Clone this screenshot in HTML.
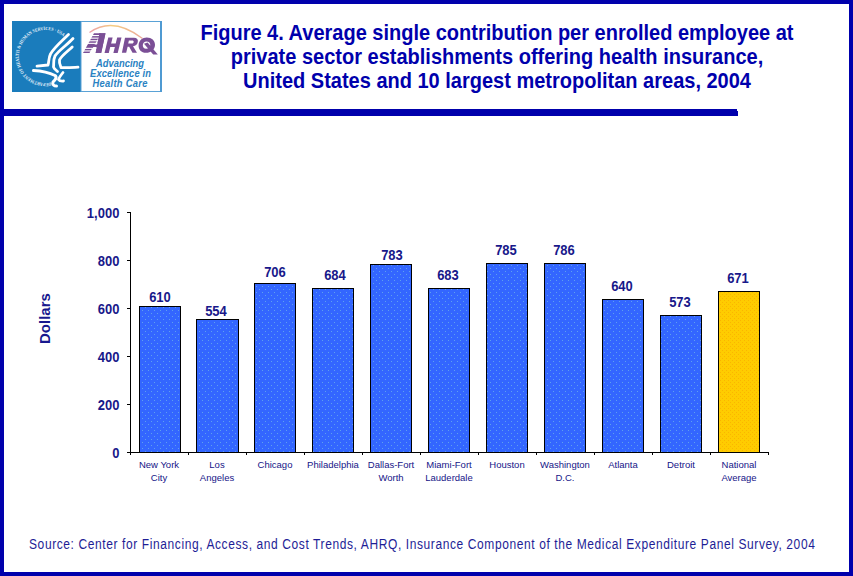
<!DOCTYPE html>
<html><head><meta charset="utf-8"><style>
html,body{margin:0;padding:0;}
body{width:853px;height:576px;position:relative;overflow:hidden;background:#fff;font-family:"Liberation Sans",sans-serif;}
.frame{position:absolute;left:0;top:0;width:845px;height:568px;border:4px solid #0000ac;}
.hline{position:absolute;left:4px;top:109px;width:733px;height:7px;background:#0000ac;}
.hline2{position:absolute;left:737px;top:111px;width:1px;height:5px;background:#0000ac;}
.title{position:absolute;left:197px;top:21px;width:600px;text-align:center;color:#0000ac;font-weight:bold;font-size:20px;line-height:22.4px;transform:scaleY(1.0714);transform-origin:0 0;}
.dl{position:absolute;width:40px;text-align:center;font-weight:bold;font-size:13px;line-height:14px;color:#18188a;transform:scaleY(1.11);transform-origin:0 0;}
.yl{position:absolute;left:59.4px;width:60px;text-align:right;font-weight:bold;font-size:13px;line-height:14px;color:#18188a;transform:scaleY(1.11);transform-origin:0 0;}
.xl{position:absolute;top:458px;width:70px;text-align:center;font-size:9.5px;line-height:13px;color:#151588;}
.ylab{position:absolute;left:20px;top:311px;width:50px;text-align:center;transform:rotate(-90deg);font-weight:bold;font-size:15px;line-height:16px;color:#18188e;}
.src{position:absolute;left:29px;top:536px;font-size:12px;letter-spacing:0.6px;line-height:15px;color:#1e1e96;white-space:nowrap;transform:scaleY(1.17);transform-origin:0 0;}
svg{position:absolute;left:0;top:0;}
</style></head><body>
<div class="frame"></div>
<div class="hline"></div><div class="hline2"></div>
<svg width="853" height="576" viewBox="0 0 853 576">
<defs>
<pattern id="pb" width="6" height="6" patternUnits="userSpaceOnUse"><rect width="6" height="6" fill="#3366ff"/><rect x="1" y="1" width="1" height="1" fill="#5fa0ee"/><rect x="4" y="4" width="1" height="1" fill="#5fa0ee"/></pattern>
<pattern id="py" width="4" height="4" patternUnits="userSpaceOnUse"><rect width="4" height="4" fill="#ffcc00"/><rect x="0" y="0" width="1" height="1" fill="#fbb400"/><rect x="2" y="2" width="1" height="1" fill="#fbb400"/></pattern>
</defs>
<line x1="130.5" y1="212" x2="130.5" y2="453" stroke="#000"/>
<line x1="127" y1="452.5" x2="769" y2="452.5" stroke="#000"/>
<line x1="127" y1="452.5" x2="130" y2="452.5" stroke="#000"/>
<line x1="127" y1="404.5" x2="130" y2="404.5" stroke="#000"/>
<line x1="127" y1="356.5" x2="130" y2="356.5" stroke="#000"/>
<line x1="127" y1="308.5" x2="130" y2="308.5" stroke="#000"/>
<line x1="127" y1="260.5" x2="130" y2="260.5" stroke="#000"/>
<line x1="127" y1="212.5" x2="130" y2="212.5" stroke="#000"/>
<line x1="130.5" y1="452" x2="130.5" y2="455" stroke="#000"/>
<line x1="188.5" y1="452" x2="188.5" y2="455" stroke="#000"/>
<line x1="246.5" y1="452" x2="246.5" y2="455" stroke="#000"/>
<line x1="304.5" y1="452" x2="304.5" y2="455" stroke="#000"/>
<line x1="362.5" y1="452" x2="362.5" y2="455" stroke="#000"/>
<line x1="420.5" y1="452" x2="420.5" y2="455" stroke="#000"/>
<line x1="478.5" y1="452" x2="478.5" y2="455" stroke="#000"/>
<line x1="536.5" y1="452" x2="536.5" y2="455" stroke="#000"/>
<line x1="594.5" y1="452" x2="594.5" y2="455" stroke="#000"/>
<line x1="652.5" y1="452" x2="652.5" y2="455" stroke="#000"/>
<line x1="710.5" y1="452" x2="710.5" y2="455" stroke="#000"/>
<line x1="768.5" y1="452" x2="768.5" y2="455" stroke="#000"/>
<rect x="139.5" y="306.5" width="41" height="146" fill="url(#pb)" stroke="#000" stroke-width="1"/>
<rect x="196.5" y="319.5" width="42" height="133" fill="url(#pb)" stroke="#000" stroke-width="1"/>
<rect x="254.5" y="283.5" width="41" height="169" fill="url(#pb)" stroke="#000" stroke-width="1"/>
<rect x="312.5" y="288.5" width="41" height="164" fill="url(#pb)" stroke="#000" stroke-width="1"/>
<rect x="370.5" y="264.5" width="41" height="188" fill="url(#pb)" stroke="#000" stroke-width="1"/>
<rect x="428.5" y="288.5" width="41" height="164" fill="url(#pb)" stroke="#000" stroke-width="1"/>
<rect x="486.5" y="263.5" width="41" height="189" fill="url(#pb)" stroke="#000" stroke-width="1"/>
<rect x="544.5" y="263.5" width="41" height="189" fill="url(#pb)" stroke="#000" stroke-width="1"/>
<rect x="602.5" y="299.5" width="41" height="153" fill="url(#pb)" stroke="#000" stroke-width="1"/>
<rect x="660.5" y="315.5" width="41" height="137" fill="url(#pb)" stroke="#000" stroke-width="1"/>
<rect x="718.5" y="291.5" width="41" height="161" fill="url(#py)" stroke="#000" stroke-width="1"/>
</svg>
<div class="title">Figure 4. Average single contribution per enrolled employee at<br>private sector establishments offering health insurance,<br>United States and 10 largest metropolitan areas, 2004</div>
<div class="dl" style="left:140px;top:290px">610</div>
<div class="dl" style="left:196px;top:304px">554</div>
<div class="dl" style="left:255px;top:265px">706</div>
<div class="dl" style="left:315px;top:268px">684</div>
<div class="dl" style="left:372px;top:248px">783</div>
<div class="dl" style="left:428px;top:268px">683</div>
<div class="dl" style="left:486px;top:243px">785</div>
<div class="dl" style="left:544px;top:243px">786</div>
<div class="dl" style="left:602px;top:279px">640</div>
<div class="dl" style="left:660px;top:295px">573</div>
<div class="dl" style="left:718px;top:271px">671</div>
<div class="yl" style="top:446px">0</div>
<div class="yl" style="top:398px">200</div>
<div class="yl" style="top:350px">400</div>
<div class="yl" style="top:302px">600</div>
<div class="yl" style="top:254px">800</div>
<div class="yl" style="top:206px">1,000</div>
<div class="xl" style="left:124px">New York<br>City</div>
<div class="xl" style="left:182px">Los<br>Angeles</div>
<div class="xl" style="left:240px">Chicago</div>
<div class="xl" style="left:298px">Philadelphia</div>
<div class="xl" style="left:356px">Dallas-Fort<br>Worth</div>
<div class="xl" style="left:414px">Miami-Fort<br>Lauderdale</div>
<div class="xl" style="left:472px">Houston</div>
<div class="xl" style="left:530px">Washington<br>D.C.</div>
<div class="xl" style="left:588px">Atlanta</div>
<div class="xl" style="left:646px">Detroit</div>
<div class="xl" style="left:704px">National<br>Average</div>
<div class="ylab">Dollars</div>
<div class="src">Source: Center for Financing, Access, and Cost Trends, AHRQ, Insurance Component of the Medical Expenditure Panel Survey, 2004</div>
<svg width="853" height="576" viewBox="0 0 853 576" style="position:absolute;left:0;top:0">
<defs>
<linearGradient id="arcg" x1="89" y1="0" x2="142" y2="0" gradientUnits="userSpaceOnUse">
<stop offset="0" stop-color="#e88a9a"/><stop offset="0.45" stop-color="#f2c46a"/><stop offset="1" stop-color="#e89a8a"/>
</linearGradient>
<path id="sealp" d="M51.01,82.42 A26.5,26.5 0 1 1 39.99,30.58 A26.5,26.5 0 1 1 51.01,82.42"/>
</defs>
<rect x="12" y="21" width="69" height="71" fill="#1a7cbc"/>
<rect x="81" y="21.5" width="79.5" height="70" fill="#fff" stroke="#5aa2d6" stroke-width="1"/>
<rect x="160" y="21" width="2" height="71" fill="#4f9ad2"/>
<g fill="none" stroke="#fff" stroke-width="2.8" stroke-linecap="round" stroke-linejoin="round">
<path d="M68.5,34.5 C62,41 54,48 50.5,54 C48.5,58 49,62 48,65 L37,66.2"/>
<path d="M73,38.5 C67,45 58,51 55,56 C53,60 54,64 53.5,67 C54,69 56,70 57.5,71.5"/>
<path d="M72.2,47 C68,51 61,56 59.5,60 C59,63 60.5,66 61,67.5 C65,68 72,67.5 78,67.2"/>
<path d="M33.5,70.5 C42,71 50,73 55,75.5 C57.5,77.5 55,80 53,82 C52,84.5 54,86 56.5,86" stroke-width="3"/>
<path d="M63,72.5 C61,75 59,77.5 58.5,79.5 C59.5,81 61.5,81.2 63.5,81"/>
</g>
<text font-family="Liberation Serif" font-weight="bold" font-size="4.8" fill="#e8f2fa"><textPath href="#sealp" startOffset="0" textLength="108.2" lengthAdjust="spacingAndGlyphs">DEPARTMENT OF HEALTH &amp; HUMAN SERVICES · USA</textPath></text>
<path d="M89.5,32.5 Q113,16 142.5,38.5" fill="none" stroke="url(#arcg)" stroke-width="1.3" opacity="0.85"/>
<g fill="#7b4f96">
<polygon points="94,33.3 101,33.3 90,53 83,53"/>
<polygon points="99.4,33.3 105.5,33.3 101.2,53 95.6,53"/>
<polygon points="88.5,44.5 99,44.5 98.5,47 87,47"/>
<polygon points="108.3,37.5 112.6,37.5 108.8,53 104.5,53"/>
<polygon points="117.2,37.5 121.5,37.5 117.7,53 113.4,53"/>
<polygon points="109.5,43.6 119,43.6 118.2,47 108.6,47"/>
<path d="M125,37.7 L134,37.7 C137,37.7 138.3,39.5 137.8,42 C137.3,44.5 135.5,46 133,46.3 L137,52.7 L132.5,52.7 L129.2,46.8 L127.6,46.8 L126.2,52.7 L121.9,52.7 Z M128.9,40.6 L128.2,43.6 L131.8,43.6 C133,43.6 133.6,43 133.7,42.1 C133.8,41.2 133.2,40.6 132.2,40.6 Z" fill-rule="evenodd"/>
<path d="M146.8,37.5 C151.5,37.5 155.2,40.5 155,45 C154.8,49.8 150.8,52.8 146,52.8 C141.3,52.8 138.4,49.6 138.6,45.2 C138.8,40.6 142.3,37.5 146.8,37.5 Z M146.5,41.5 C144.4,41.5 142.9,43 142.8,45.1 C142.7,47.3 144,48.8 146.1,48.8 C148.3,48.8 150.2,47.3 150.3,45.1 C150.4,43 148.8,41.5 146.5,41.5 Z" fill-rule="evenodd"/>
<polygon points="144,43.8 147.6,42.6 157.8,54.6 153.2,54.6"/>
</g>
<g fill="#fff">
<rect x="82" y="35.0" width="20" height="1.1"/>
<rect x="82" y="37.6" width="19" height="1.1"/>
<rect x="82" y="40.2" width="19" height="1.1"/>
<rect x="82" y="42.8" width="18" height="1.1"/>
<rect x="82" y="47.8" width="17" height="1.1"/>
<rect x="82" y="50.4" width="16.4" height="1.1"/>
<polygon points="91.5,49.2 96,49.2 95.6,53 89.5,53" />
</g>
<g fill="#7b4f96"><polygon points="99.4,33.3 105.5,33.3 101.2,53 95.6,53"/></g>
<g font-family="Liberation Sans" font-weight="bold" font-style="italic" font-size="9.4" fill="#2a82c2" text-anchor="middle">
<text transform="translate(120,66.8) scale(1,1.12)" textLength="48" lengthAdjust="spacing">Advancing</text>
<text transform="translate(120.5,76.8) scale(1,1.12)" textLength="61" lengthAdjust="spacing">Excellence in</text>
<text transform="translate(120,86.9) scale(1,1.12)" textLength="55" lengthAdjust="spacing">Health Care</text>
</g>
</svg>
</body></html>
